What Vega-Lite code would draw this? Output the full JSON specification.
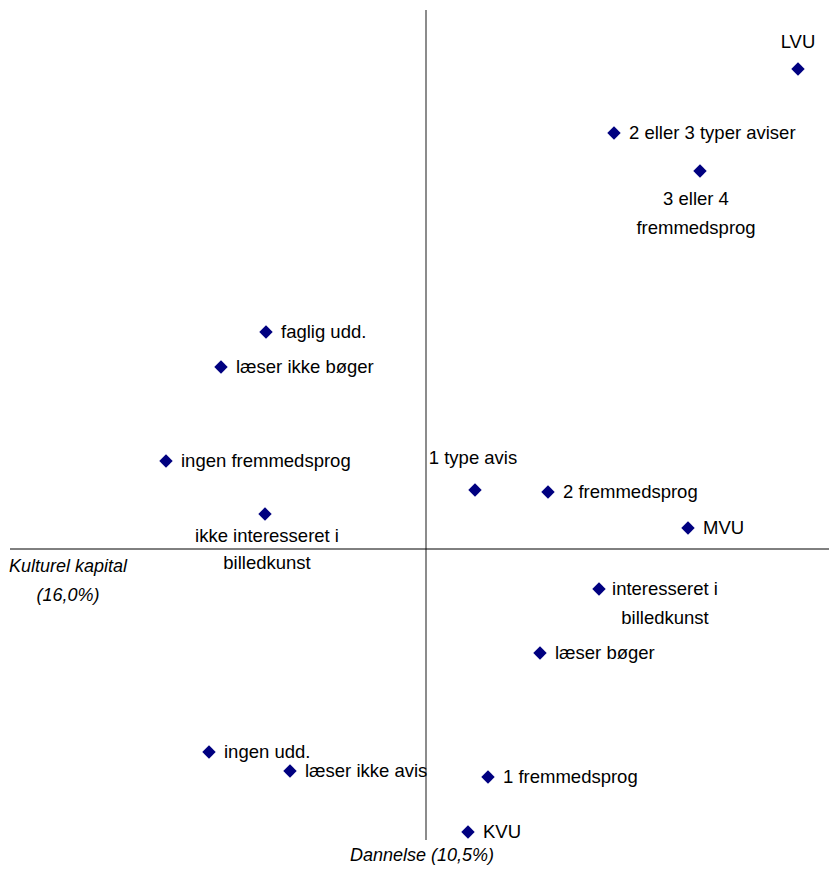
{
  "$schema": "https://vega.github.io/schema/vega-lite/v6.json",
  "width": 829,
  "height": 870,
  "padding": 0,
  "autosize": {"type": "none"},
  "background": "white",
  "config": {"view": {"stroke": null}, "text": {"font": "Liberation Sans", "fontSize": 18.5, "color": "black"}},
  "datasets": {
    "points": [
      {"label": "LVU", "x": 3.72, "y": 4.80},
      {"label": "2 eller 3 typer aviser", "x": 1.88, "y": 4.16},
      {"label": "3 eller 4 fremmedsprog", "x": 2.74, "y": 3.78},
      {"label": "faglig udd.", "x": -1.60, "y": 2.17},
      {"label": "læser ikke bøger", "x": -2.05, "y": 1.82},
      {"label": "ingen fremmedsprog", "x": -2.60, "y": 0.88},
      {"label": "1 type avis", "x": 0.49, "y": 0.59},
      {"label": "2 fremmedsprog", "x": 1.22, "y": 0.57},
      {"label": "MVU", "x": 2.62, "y": 0.21},
      {"label": "ikke interesseret i billedkunst", "x": -1.61, "y": 0.35},
      {"label": "interesseret i billedkunst", "x": 1.73, "y": -0.40},
      {"label": "læser bøger", "x": 1.14, "y": -1.04},
      {"label": "ingen udd.", "x": -2.17, "y": -2.03},
      {"label": "læser ikke avis", "x": -1.36, "y": -2.22},
      {"label": "1 fremmedsprog", "x": 0.62, "y": -2.28},
      {"label": "KVU", "x": 0.42, "y": -2.83}
    ],
    "titles": [
      {"title": "Kulturel kapital\n(16,0%)", "x": -3.58, "y": -0.19},
      {"title": "Dannelse (10,5%)", "x": -0.04, "y": -3.08}
    ]
  },
  "data": {"name": "points"},
  "encoding": {
    "x": {"field": "x", "type": "quantitative", "scale": {"domain": [-4.26, 4.03], "nice": false, "zero": false}, "axis": null},
    "y": {"field": "y", "type": "quantitative", "scale": {"domain": [-3.21, 5.49], "nice": false, "zero": false}, "axis": null}
  },
  "layer": [
    {
      "transform": [{"filter": {"field": "label", "equal": "LVU"}}],
      "mark": {"type": "rule", "color": "#666666", "strokeWidth": 1.5},
      "encoding": {"x": {"datum": 0}, "y": {"datum": 5.39}, "y2": {"datum": -2.91}}
    },
    {
      "transform": [{"filter": {"field": "label", "equal": "LVU"}}],
      "mark": {"type": "rule", "color": "#000000", "strokeWidth": 1},
      "encoding": {"y": {"datum": 0}, "x": {"datum": -4.16}, "x2": {"datum": 4.03}}
    },
    {
      "mark": {"type": "point", "shape": "diamond", "filled": true, "size": 180, "color": "#000080", "opacity": 1}
    },
    {
      "transform": [{"filter": {"field": "label", "oneOf": ["2 eller 3 typer aviser", "faglig udd.", "læser ikke bøger", "ingen fremmedsprog", "2 fremmedsprog", "MVU", "læser bøger", "ingen udd.", "læser ikke avis", "1 fremmedsprog", "KVU"]}}],
      "mark": {"type": "text", "align": "left", "baseline": "middle", "dx": 15},
      "encoding": {"text": {"field": "label"}}
    },
    {
      "transform": [{"filter": {"field": "label", "equal": "LVU"}}],
      "mark": {"type": "text", "align": "center", "baseline": "middle", "dy": -27},
      "encoding": {"text": {"field": "label"}}
    },
    {
      "transform": [{"filter": {"field": "label", "equal": "1 type avis"}}],
      "mark": {"type": "text", "align": "center", "baseline": "middle", "dy": -32, "dx": -2},
      "encoding": {"text": {"field": "label"}}
    },
    {
      "transform": [{"filter": {"field": "label", "equal": "3 eller 4 fremmedsprog"}}],
      "mark": {"type": "text", "align": "center", "baseline": "middle", "dy": 28, "dx": -4, "lineHeight": 29},
      "encoding": {"text": {"value": ["3 eller 4", "fremmedsprog"]}}
    },
    {
      "transform": [{"filter": {"field": "label", "equal": "ikke interesseret i billedkunst"}}],
      "mark": {"type": "text", "align": "center", "baseline": "middle", "dy": 22, "dx": 2, "lineHeight": 27},
      "encoding": {"text": {"value": ["ikke interesseret i", "billedkunst"]}}
    },
    {
      "transform": [{"filter": {"field": "label", "equal": "interesseret i billedkunst"}}],
      "mark": {"type": "text", "align": "center", "baseline": "middle", "dx": 66, "lineHeight": 29},
      "encoding": {"text": {"value": ["interesseret i", "billedkunst"]}}
    },
    {
      "data": {"name": "titles"},
      "mark": {"type": "text", "align": "center", "baseline": "top", "dy": -10, "font": "Liberation Sans", "fontStyle": "italic", "fontWeight": "normal", "fontSize": 18, "lineHeight": 29, "lineBreak": "\n"},
      "encoding": {"text": {"field": "title"}}
    }
  ]
}
